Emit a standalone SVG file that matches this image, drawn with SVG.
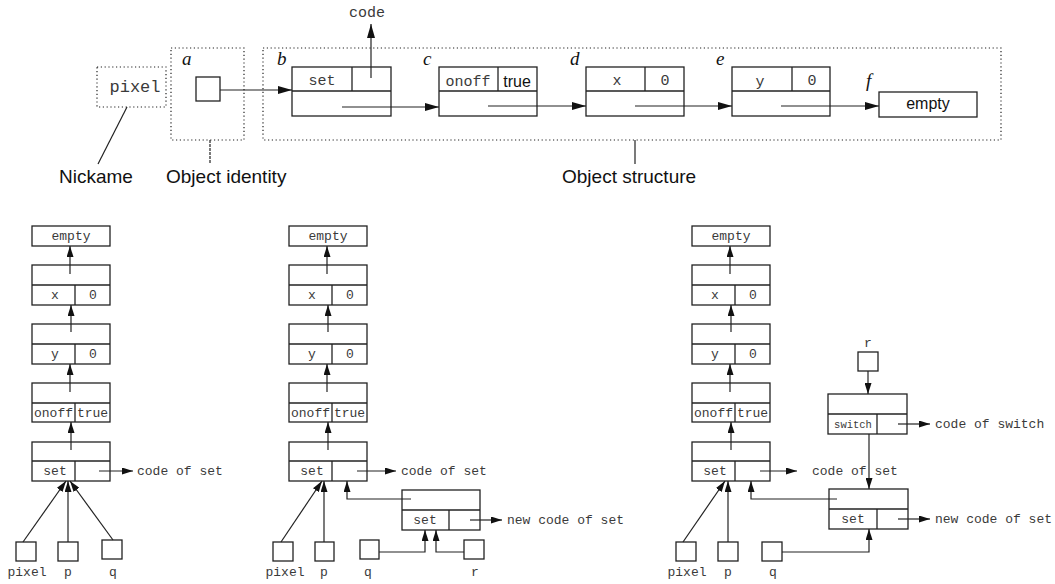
<svg xmlns="http://www.w3.org/2000/svg" width="1055" height="584" viewBox="0 0 1055 584">
<style>
.bx{fill:none;stroke:#222;stroke-width:1.3}
.ln{fill:none;stroke:#222;stroke-width:1.2}
.dot{fill:none;stroke:#222;stroke-width:1.2;stroke-dasharray:1.2 2.6}
.mt{font-family:"Liberation Mono",monospace;font-size:15px;fill:#3a3a3a;text-anchor:middle}
.mp{font-family:"Liberation Mono",monospace;font-size:13px;fill:#3a3a3a}
.mc{font-family:"Liberation Mono",monospace;font-size:13px;fill:#3a3a3a;text-anchor:middle}
.st{font-family:"Liberation Sans",Arial,sans-serif;font-size:16px;fill:#111;text-anchor:middle}
.lb{font-family:"Liberation Sans",Arial,sans-serif;font-size:19px;fill:#111}
.it{font-family:"Liberation Serif",serif;font-style:italic;font-size:19px;fill:#111}
</style>
<defs>
<marker id="ah" markerWidth="14" markerHeight="8" refX="14" refY="4" orient="auto" markerUnits="userSpaceOnUse"><path d="M0,0 L14,4 L0,8 z" fill="#111"/></marker>
<marker id="as" markerWidth="11" markerHeight="7" refX="11" refY="3.5" orient="auto" markerUnits="userSpaceOnUse"><path d="M0,0 L11,3.5 L0,7 z" fill="#111"/></marker>
</defs>

<!-- ===== Top part ===== -->
<g id="nickname">
<rect class="dot" x="97" y="67" width="69" height="40"/>
<text class="mt" x="135" y="92" style="font-size:17px">pixel</text>
</g>
<g id="identity">
<rect class="dot" x="171" y="48" width="73" height="92"/>
<text class="it" x="182" y="65">a</text>
<rect class="bx" x="196" y="77" width="24" height="24"/>
</g>
<g id="structure">
<rect class="dot" x="263" y="48" width="738" height="92"/>
</g>
<g id="node-b">
<text class="it" x="277" y="65">b</text>
<rect class="bx" x="292" y="67" width="99" height="49"/>
<line class="bx" x1="292" y1="91" x2="391" y2="91"/>
<line class="bx" x1="352" y1="67" x2="352" y2="91"/>
<text class="mt" x="322" y="85">set</text>
</g>
<g id="code-label"><text class="mt" x="367" y="17">code</text></g>
<g id="node-c">
<text class="it" x="423" y="65">c</text>
<rect class="bx" x="439" y="67" width="98" height="49"/>
<line class="bx" x1="439" y1="91" x2="537" y2="91"/>
<line class="bx" x1="498" y1="67" x2="498" y2="91"/>
<text class="mt" x="468" y="86">onoff</text>
<text class="st" x="517" y="87">true</text>
</g>
<g id="node-d">
<text class="it" x="570" y="65">d</text>
<rect class="bx" x="586" y="67" width="98" height="49"/>
<line class="bx" x1="586" y1="91" x2="684" y2="91"/>
<line class="bx" x1="645" y1="67" x2="645" y2="91"/>
<text class="mt" x="617" y="85">x</text>
<text class="mt" x="665" y="85">0</text>
</g>
<g id="node-e">
<text class="it" x="716" y="65">e</text>
<rect class="bx" x="732" y="67" width="98" height="49"/>
<line class="bx" x1="732" y1="91" x2="830" y2="91"/>
<line class="bx" x1="792" y1="67" x2="792" y2="91"/>
<text class="mt" x="760" y="86">y</text>
<text class="mt" x="812" y="85">0</text>
</g>
<g id="node-f">
<text class="it" x="866" y="87">f</text>
<rect class="bx" x="879" y="92" width="98" height="25"/>
<text class="st" x="928" y="109">empty</text>
</g>
<g id="labels">
<text class="lb" x="59" y="183">Nickame</text>
<text class="lb" x="166" y="183">Object identity</text>
<text class="lb" x="562" y="183">Object structure</text>
</g>

<!-- ===== Bottom left ===== -->
<g id="L-empty"><rect class="bx" x="32" y="226" width="78" height="20"/><text class="mc" x="71" y="240">empty</text></g>
<g id="L-x"><rect class="bx" x="32" y="265" width="78" height="40"/><line class="bx" x1="32" y1="285" x2="110" y2="285"/><line class="bx" x1="75" y1="285" x2="75" y2="305"/><text class="mc" x="55" y="299">x</text><text class="mc" x="93" y="299">0</text></g>
<g id="L-y"><rect class="bx" x="32" y="324" width="78" height="40"/><line class="bx" x1="32" y1="344" x2="110" y2="344"/><line class="bx" x1="75" y1="344" x2="75" y2="364"/><text class="mc" x="55" y="358">y</text><text class="mc" x="93" y="358">0</text></g>
<g id="L-onoff"><rect class="bx" x="32" y="383" width="78" height="39"/><line class="bx" x1="32" y1="403" x2="110" y2="403"/><line class="bx" x1="75" y1="403" x2="75" y2="422"/><text class="mc" x="53.5" y="417">onoff</text><text class="mc" x="92.5" y="417">true</text></g>
<g id="L-set"><rect class="bx" x="32" y="442" width="78" height="39"/><line class="bx" x1="32" y1="461" x2="110" y2="461"/><line class="bx" x1="75" y1="461" x2="75" y2="481"/><text class="mc" x="55" y="475">set</text><text class="mp" x="137" y="475">code of set</text></g>
<g id="L-pixel"><rect class="bx" x="16" y="542" width="20" height="19"/><text class="mc" x="27" y="576">pixel</text></g>
<g id="L-p"><rect class="bx" x="58" y="542" width="20" height="19"/><text class="mc" x="68" y="576">p</text></g>
<g id="L-q"><rect class="bx" x="102" y="540" width="20" height="19"/><text class="mc" x="113" y="576">q</text></g>

<!-- ===== Bottom middle ===== -->
<g id="M-empty"><rect class="bx" x="289" y="226" width="78" height="20"/><text class="mc" x="328" y="240">empty</text></g>
<g id="M-x"><rect class="bx" x="289" y="265" width="78" height="40"/><line class="bx" x1="289" y1="285" x2="367" y2="285"/><line class="bx" x1="332" y1="285" x2="332" y2="305"/><text class="mc" x="312" y="299">x</text><text class="mc" x="350" y="299">0</text></g>
<g id="M-y"><rect class="bx" x="289" y="324" width="78" height="40"/><line class="bx" x1="289" y1="344" x2="367" y2="344"/><line class="bx" x1="332" y1="344" x2="332" y2="364"/><text class="mc" x="312" y="358">y</text><text class="mc" x="350" y="358">0</text></g>
<g id="M-onoff"><rect class="bx" x="289" y="383" width="78" height="39"/><line class="bx" x1="289" y1="403" x2="367" y2="403"/><line class="bx" x1="332" y1="403" x2="332" y2="422"/><text class="mc" x="310.5" y="417">onoff</text><text class="mc" x="349.5" y="417">true</text></g>
<g id="M-set"><rect class="bx" x="289" y="442" width="78" height="39"/><line class="bx" x1="289" y1="461" x2="367" y2="461"/><line class="bx" x1="332" y1="461" x2="332" y2="481"/><text class="mc" x="312" y="475">set</text><text class="mp" x="401" y="475">code of set</text></g>
<g id="M-set2"><rect class="bx" x="402" y="490" width="78" height="40"/><line class="bx" x1="402" y1="510" x2="480" y2="510"/><line class="bx" x1="449" y1="510" x2="449" y2="530"/><text class="mc" x="425" y="524">set</text><text class="mp" x="507" y="524">new code of set</text></g>
<g id="M-pixel"><rect class="bx" x="273" y="542" width="20" height="19"/><text class="mc" x="285" y="576">pixel</text></g>
<g id="M-p"><rect class="bx" x="315" y="542" width="19" height="19"/><text class="mc" x="324" y="576">p</text></g>
<g id="M-q"><rect class="bx" x="360" y="540" width="19" height="19"/><text class="mc" x="368" y="576">q</text></g>
<g id="M-r"><rect class="bx" x="464" y="540" width="20" height="19"/><text class="mc" x="475" y="576">r</text></g>

<!-- ===== Bottom right ===== -->
<g id="R-empty"><rect class="bx" x="692" y="226" width="78" height="20"/><text class="mc" x="731" y="240">empty</text></g>
<g id="R-x"><rect class="bx" x="692" y="265" width="78" height="40"/><line class="bx" x1="692" y1="285" x2="770" y2="285"/><line class="bx" x1="735" y1="285" x2="735" y2="305"/><text class="mc" x="715" y="299">x</text><text class="mc" x="753" y="299">0</text></g>
<g id="R-y"><rect class="bx" x="692" y="324" width="78" height="40"/><line class="bx" x1="692" y1="344" x2="770" y2="344"/><line class="bx" x1="735" y1="344" x2="735" y2="364"/><text class="mc" x="715" y="358">y</text><text class="mc" x="753" y="358">0</text></g>
<g id="R-onoff"><rect class="bx" x="692" y="383" width="78" height="39"/><line class="bx" x1="692" y1="403" x2="770" y2="403"/><line class="bx" x1="735" y1="403" x2="735" y2="422"/><text class="mc" x="713.5" y="417">onoff</text><text class="mc" x="752.5" y="417">true</text></g>
<g id="R-set"><rect class="bx" x="692" y="442" width="78" height="39"/><line class="bx" x1="692" y1="461" x2="770" y2="461"/><line class="bx" x1="735" y1="461" x2="735" y2="481"/><text class="mc" x="715" y="475">set</text><text class="mp" x="812" y="475">code of set</text></g>
<g id="R-r"><text class="mc" x="868" y="347">r</text><rect class="bx" x="858" y="352" width="20" height="19"/></g>
<g id="R-switch"><rect class="bx" x="828" y="394" width="79" height="40"/><line class="bx" x1="828" y1="414" x2="907" y2="414"/><line class="bx" x1="877" y1="414" x2="877" y2="434"/><text class="mc" x="853" y="428" style="font-size:10.5px">switch</text><text class="mp" x="935" y="428">code of switch</text></g>
<g id="R-set2"><rect class="bx" x="829" y="489" width="79" height="40"/><line class="bx" x1="829" y1="509" x2="908" y2="509"/><line class="bx" x1="877" y1="509" x2="877" y2="529"/><text class="mc" x="853" y="523">set</text><text class="mp" x="935" y="523">new code of set</text></g>
<g id="R-pixel"><rect class="bx" x="676" y="542" width="20" height="19"/><text class="mc" x="687" y="576">pixel</text></g>
<g id="R-p"><rect class="bx" x="718" y="542" width="20" height="19"/><text class="mc" x="728" y="576">p</text></g>
<g id="R-q"><rect class="bx" x="762" y="542" width="20" height="19"/><text class="mc" x="773" y="576">q</text></g>

<!-- ===== Connectors ===== -->
<g id="connectors">
<!-- top -->
<line class="ln" x1="127" y1="107" x2="98" y2="164"/>
<line class="ln" x1="210" y1="140" x2="210" y2="164" stroke-dasharray="3 1"/>
<line class="ln" x1="635" y1="140" x2="635" y2="164"/>
<line class="ln" x1="220" y1="90" x2="292" y2="90" marker-end="url(#ah)"/>
<line class="ln" x1="371" y1="78" x2="371" y2="24" marker-end="url(#ah)"/>
<line class="ln" x1="342" y1="107" x2="439" y2="107" marker-end="url(#ah)"/>
<line class="ln" x1="488" y1="106" x2="586" y2="106" marker-end="url(#ah)"/>
<line class="ln" x1="635" y1="106" x2="732" y2="106" marker-end="url(#ah)"/>
<line class="ln" x1="781" y1="106" x2="879" y2="106" marker-end="url(#ah)"/>
<!-- left column -->
<line class="ln" x1="70" y1="274" x2="70" y2="246" marker-end="url(#as)"/>
<line class="ln" x1="71" y1="332" x2="71" y2="305" marker-end="url(#as)"/>
<line class="ln" x1="70" y1="392" x2="70" y2="364" marker-end="url(#as)"/>
<line class="ln" x1="71" y1="450" x2="71" y2="422" marker-end="url(#as)"/>
<line class="ln" x1="99" y1="471" x2="133" y2="471" marker-end="url(#as)"/>
<line class="ln" x1="23" y1="542" x2="66" y2="481" marker-end="url(#as)"/>
<line class="ln" x1="68" y1="542" x2="68" y2="481" marker-end="url(#as)"/>
<line class="ln" x1="113" y1="540" x2="70" y2="481" marker-end="url(#as)"/>
<!-- middle column -->
<line class="ln" x1="327" y1="274" x2="327" y2="246" marker-end="url(#as)"/>
<line class="ln" x1="328" y1="332" x2="328" y2="305" marker-end="url(#as)"/>
<line class="ln" x1="327" y1="392" x2="327" y2="364" marker-end="url(#as)"/>
<line class="ln" x1="328" y1="450" x2="328" y2="422" marker-end="url(#as)"/>
<line class="ln" x1="357" y1="471" x2="396" y2="471" marker-end="url(#as)"/>
<line class="ln" x1="470" y1="520" x2="502" y2="520" marker-end="url(#as)"/>
<polyline class="ln" points="411,499 347,499 347,481" marker-end="url(#as)"/>
<line class="ln" x1="281" y1="542" x2="322" y2="481" marker-end="url(#as)"/>
<line class="ln" x1="324" y1="542" x2="324" y2="481" marker-end="url(#as)"/>
<polyline class="ln" points="379,552 425,552 425,530" marker-end="url(#as)"/>
<polyline class="ln" points="464,552 436,552 436,530" marker-end="url(#as)"/>
<!-- right column -->
<line class="ln" x1="730" y1="274" x2="730" y2="246" marker-end="url(#as)"/>
<line class="ln" x1="731" y1="332" x2="731" y2="305" marker-end="url(#as)"/>
<line class="ln" x1="730" y1="392" x2="730" y2="364" marker-end="url(#as)"/>
<line class="ln" x1="731" y1="450" x2="731" y2="422" marker-end="url(#as)"/>
<line class="ln" x1="760" y1="471" x2="797" y2="471" marker-end="url(#as)"/>
<line class="ln" x1="868" y1="371" x2="868" y2="394" marker-end="url(#as)"/>
<line class="ln" x1="898" y1="424" x2="930" y2="424" marker-end="url(#as)"/>
<line class="ln" x1="869" y1="434" x2="869" y2="489" marker-end="url(#as)"/>
<line class="ln" x1="898" y1="519" x2="930" y2="519" marker-end="url(#as)"/>
<polyline class="ln" points="837,499 751,499 751,481" marker-end="url(#as)"/>
<line class="ln" x1="683" y1="542" x2="725" y2="481" marker-end="url(#as)"/>
<line class="ln" x1="728" y1="542" x2="728" y2="481" marker-end="url(#as)"/>
<polyline class="ln" points="782,552 869,552 869,529" marker-end="url(#as)"/>
</g>
</svg>
